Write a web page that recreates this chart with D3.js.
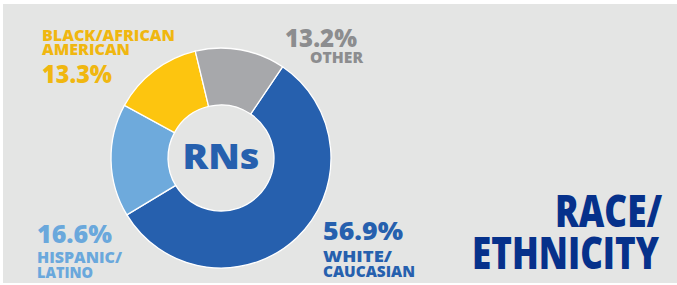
<!DOCTYPE html>
<html>
<head>
<meta charset="utf-8">
<script src="https://cdn.jsdelivr.net/npm/d3@7"></script>
<style>
  body { margin: 0; background: #fff; }
  text { font-family: "Open Sans", sans-serif; font-weight: 800; }
</style>
</head>
<body>
<script>
// race / ethnicity of RNs - donut
var categories = ["White/Caucasian", "Hispanic/Latino", "Black/African American", "Other"];
var values = [56.9, 16.6, 13.3, 13.2];
var pctLabels = ["56.9%", "16.6%", "13.3%", "13.2%"];
var nameLines = [["WHITE/", "CAUCASIAN"], ["HISPANIC/", "LATINO"], ["BLACK/AFRICAN", "AMERICAN"], ["OTHER"]];

var sliceColors = ["#2660ae", "#6eaadc", "#fdc50f", "#a7a8ab"];
var labelColors = ["#2660ae", "#6aa8dc", "#f0b710", "#8c8d8f"];

var w = 677, h = 285;
var cx = 221, cy = 158, outerR = 110, innerR = 53;

var svg = d3.select("body").append("svg")
    .attr("width", w).attr("height", h);

svg.append("rect")
    .attr("x", 3).attr("y", 4)
    .attr("width", w - 3).attr("height", 279)
    .attr("fill", "#e4e5e4");

var start = 34 * Math.PI / 180;
var pie = d3.pie().sort(null)
    .startAngle(start).endAngle(start + 2 * Math.PI);
var arc = d3.arc().innerRadius(innerR).outerRadius(outerR);

var g = svg.append("g").attr("transform", "translate(" + cx + "," + cy + ")");
g.selectAll("path")
  .data(pie(values))
  .enter()
  .append("path")
  .attr("d", arc)
  .attr("fill", function(d, i) { return sliceColors[i]; })
  .attr("stroke", "#fff")
  .attr("stroke-width", 1.3);

g.append("text")
  .attr("x", 0).attr("y", 11)
  .attr("text-anchor", "middle")
  .attr("font-size", 35)
  .attr("textLength", 77)
  .attr("lengthAdjust", "spacingAndGlyphs")
  .attr("fill", "#2660ae")
  .text("RNs");

// label layout (x, baseline of pct, baselines of name lines, widths)
var layout = [
  { x: 323, pct: 240, pctW: 80, names: [262, 277], nameW: [69, 92], order: "pctFirst" },
  { x: 37,  pct: 243, pctW: 75, names: [263, 278], nameW: [85, 56], order: "pctFirst" },
  { x: 42,  pct: 83,  pctW: 70, names: [41, 55],   nameW: [133, 88], order: "nameFirst" },
  { x: 285, pct: 47,  pctW: 72, names: [63],       nameW: [53], order: "pctFirst", nameX: 310 }
];

layout.forEach(function(L, i) {
  svg.append("text")
    .attr("x", L.x).attr("y", L.pct)
    .attr("font-size", 25)
    .attr("textLength", L.pctW)
    .attr("lengthAdjust", "spacingAndGlyphs")
    .attr("fill", labelColors[i])
    .text(pctLabels[i]);
  nameLines[i].forEach(function(s, j) {
    svg.append("text")
      .attr("x", L.nameX || L.x).attr("y", L.names[j])
      .attr("font-size", 15.5)
      .attr("textLength", L.nameW[j])
      .attr("lengthAdjust", "spacingAndGlyphs")
      .attr("fill", labelColors[i])
      .text(s);
  });
});

// title
var title = [["RACE/", 227, 107, 555], ["ETHNICITY", 269, 187, 472]];
title.forEach(function(t) {
  svg.append("text")
    .attr("x", t[3]).attr("y", t[1])
    .attr("font-family", "'Liberation Sans Narrow', sans-serif")
    .attr("font-weight", 700)
    .attr("font-size", 43.5)
    .attr("textLength", t[2])
    .attr("lengthAdjust", "spacingAndGlyphs")
    .attr("fill", "#06318b")
    .text(t[0]);
});
</script>
</body>
</html>
